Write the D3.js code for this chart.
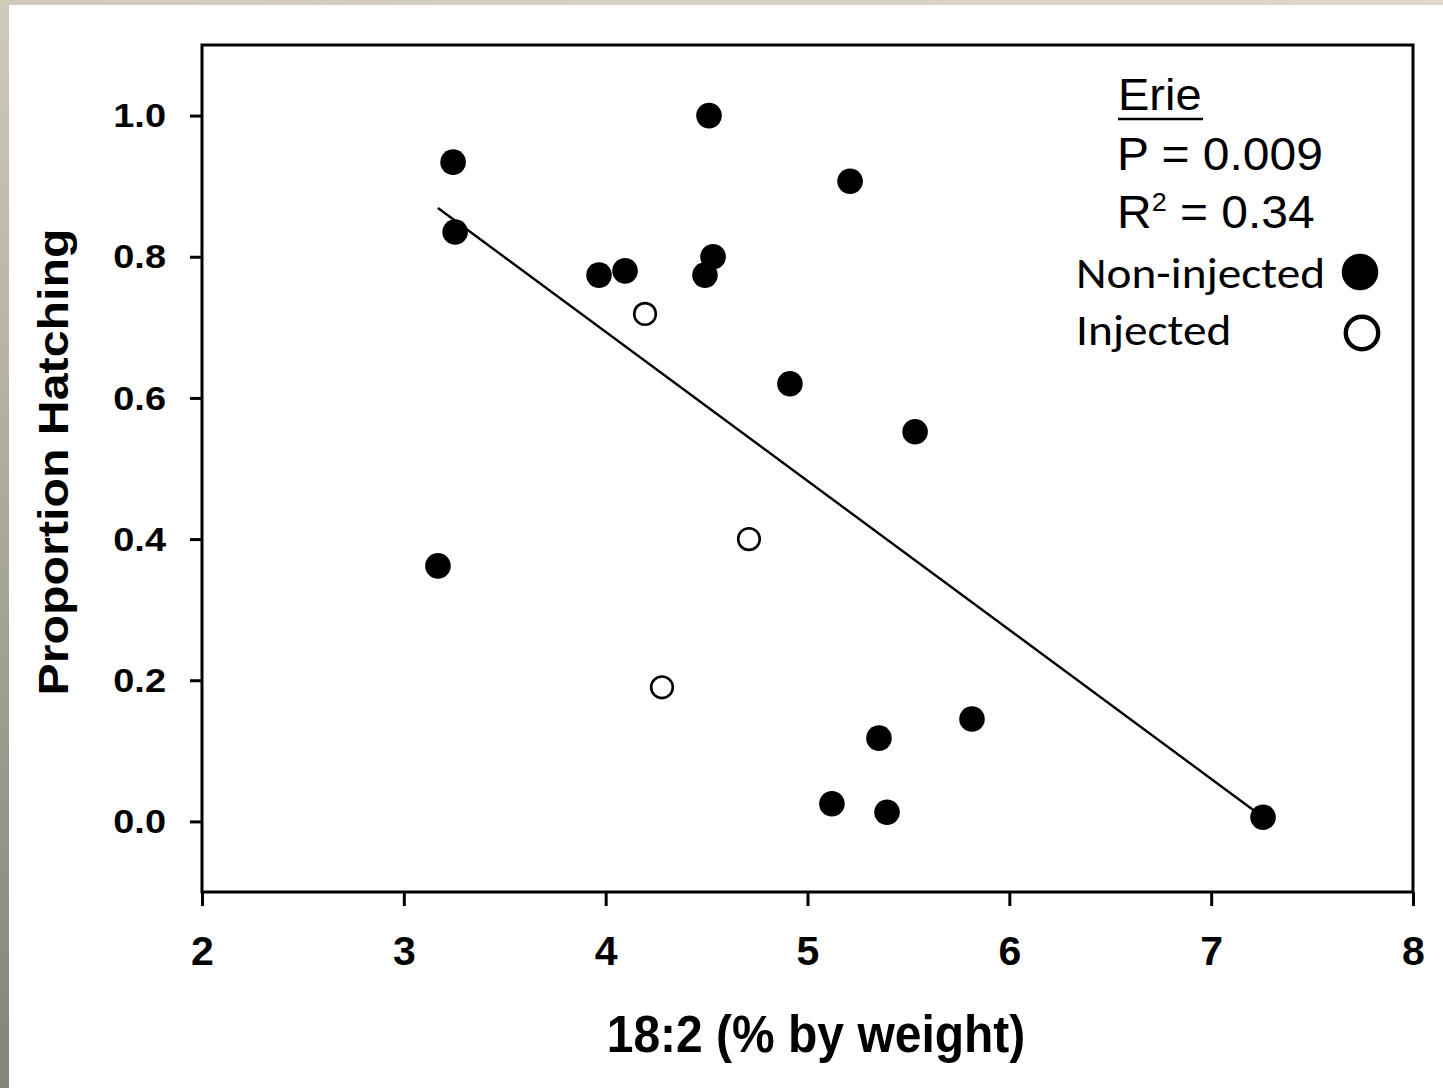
<!DOCTYPE html>
<html>
<head>
<meta charset="utf-8">
<script src="https://cdn.jsdelivr.net/npm/d3@7/dist/d3.min.js"></script>
<style>
  html, body { margin: 0; padding: 0; background: #fff; }
  svg { display: block; }
</style>
</head>
<body>
<svg id="chart" width="1443" height="1088"></svg>
<script>
// ---- Data ----
const nonInjectedX = [3.244, 3.254, 3.169, 3.967, 4.096, 4.512, 4.532, 4.492, 5.211, 4.913, 5.533, 5.815, 5.354, 5.121, 5.394, 7.257];
const nonInjectedY = [0.934, 0.835, 0.362, 0.774, 0.780, 1.000, 0.800, 0.774, 0.907, 0.620, 0.552, 0.145, 0.118, 0.025, 0.013, 0.006];
const injectedX = [4.195, 4.710, 4.279];
const injectedY = [0.719, 0.400, 0.190];
const fitX = [3.169, 7.257];
const fitY = [0.869, 0.006];
const xTicks = [2, 3, 4, 5, 6, 7, 8];
const yTicks = [0.0, 0.2, 0.4, 0.6, 0.8, 1.0];
const xTitle = "18:2 (% by weight)";
const yTitle = "Proportion Hatching";
const siteName = "Erie";
const pText = "P = 0.009";
const r2Value = " = 0.34";
const legendLabels = ["Non-injected", "Injected"];

// ---- Layout ----
const W = 1443, H = 1088;
const plot = { left: 202, right: 1413, top: 45, bottom: 892 };
const svg = d3.select("#chart");
const arial = "'Liberation Sans', Arial, Helvetica, sans-serif";
const calibri = "Carlito, Calibri, Lato, sans-serif";

// Background: beige slide border on top and left
const defs = svg.append("defs");
const lg = defs.append("linearGradient").attr("id", "leftGrad")
  .attr("x1", 0).attr("y1", 0).attr("x2", 0).attr("y2", 1);
lg.append("stop").attr("offset", "0%").attr("stop-color", "#cfcbba");
lg.append("stop").attr("offset", "100%").attr("stop-color", "#85837a");
const tg = defs.append("linearGradient").attr("id", "topGrad")
  .attr("x1", 0).attr("y1", 0).attr("x2", 1).attr("y2", 0);
tg.append("stop").attr("offset", "0%").attr("stop-color", "#cfcbba");
tg.append("stop").attr("offset", "100%").attr("stop-color", "#dcd9cb");

svg.append("rect").attr("x", 0).attr("y", 0).attr("width", W).attr("height", H).attr("fill", "#ffffff");
svg.append("rect").attr("x", 0).attr("y", 0).attr("width", W).attr("height", 5).attr("fill", "url(#topGrad)");
svg.append("rect").attr("x", 0).attr("y", 0).attr("width", 9).attr("height", H).attr("fill", "url(#leftGrad)");

// Scales
const x = d3.scaleLinear().domain([2, 8]).range([plot.left, plot.right]);
const y = d3.scaleLinear().domain([-0.1, 1.1]).range([plot.bottom, plot.top]);

// Axes
const xAxis = svg.append("g")
  .attr("transform", `translate(0,${plot.bottom})`)
  .call(d3.axisBottom(x).tickValues(xTicks).tickFormat(d3.format("d")).tickSizeInner(14).tickSizeOuter(0));
xAxis.select(".domain").remove();
xAxis.selectAll(".tick line").attr("stroke", "#000").attr("stroke-width", 3);
xAxis.selectAll(".tick text")
  .attr("y", 73).attr("dy", 0)
  .attr("fill", "#000")
  .style("font-family", arial).style("font-weight", "bold").style("font-size", "41px");

const ySx = 1.15;
const yAxis = svg.append("g")
  .attr("transform", `translate(${plot.left},0)`)
  .call(d3.axisLeft(y).tickValues(yTicks).tickFormat(d3.format(".1f")).tickSizeInner(12).tickSizeOuter(0));
yAxis.select(".domain").remove();
yAxis.selectAll(".tick line").attr("stroke", "#000").attr("stroke-width", 3);
yAxis.selectAll(".tick text")
  .attr("x", -36 / ySx).attr("dy", "0.34em")
  .attr("transform", `scale(${ySx},1)`)
  .attr("fill", "#000")
  .style("font-family", arial).style("font-weight", "bold").style("font-size", "33px");

// Frame
svg.append("rect")
  .attr("x", plot.left).attr("y", plot.top)
  .attr("width", plot.right - plot.left).attr("height", plot.bottom - plot.top)
  .attr("fill", "none").attr("stroke", "#000").attr("stroke-width", 3);

// Regression line
svg.append("path")
  .datum(fitX.map((d, i) => [d, fitY[i]]))
  .attr("d", d3.line().x(d => x(d[0])).y(d => y(d[1])))
  .attr("fill", "none").attr("stroke", "#000").attr("stroke-width", 2.4);

// Points
svg.append("g").selectAll("circle")
  .data(nonInjectedX.map((d, i) => [d, nonInjectedY[i]]))
  .join("circle")
  .attr("cx", d => x(d[0])).attr("cy", d => y(d[1]))
  .attr("r", 12.8).attr("fill", "#000");

svg.append("g").selectAll("circle")
  .data(injectedX.map((d, i) => [d, injectedY[i]]))
  .join("circle")
  .attr("cx", d => x(d[0])).attr("cy", d => y(d[1]))
  .attr("r", 10.8).attr("fill", "#fff").attr("stroke", "#000").attr("stroke-width", 2.6);

// Axis titles
svg.append("g")
  .attr("transform", `translate(816,1052) scale(1,1.08)`)
  .append("text")
  .attr("text-anchor", "middle")
  .attr("fill", "#000")
  .style("font-family", arial).style("font-weight", "bold").style("font-size", "48px")
  .text(xTitle);

svg.append("g")
  .attr("transform", `translate(68,462) rotate(-90) scale(1.15,1)`)
  .append("text")
  .attr("text-anchor", "middle")
  .attr("fill", "#000")
  .style("font-family", arial).style("font-weight", "bold").style("font-size", "42px")
  .text(yTitle);

// Annotation
const ann = svg.append("g");
ann.append("g").attr("transform", "translate(1118,110) scale(1,0.95)")
  .append("text").attr("fill", "#000")
  .style("font-family", arial).style("font-size", "47px")
  .text(siteName);
ann.append("line").attr("x1", 1118).attr("x2", 1203).attr("y1", 119).attr("y2", 119)
  .attr("stroke", "#000").attr("stroke-width", 2.5);
ann.append("g").attr("transform", "translate(1117,170) scale(1,0.96)")
  .append("text").attr("fill", "#000")
  .style("font-family", arial).style("font-size", "48px")
  .text(pText);
const rT = ann.append("g").attr("transform", "translate(1117,228) scale(1,0.96)")
  .append("text").attr("fill", "#000")
  .style("font-family", arial).style("font-size", "48px");
rT.append("tspan").text("R");
rT.append("tspan").attr("dy", -18).style("font-size", "27px").text("2");
rT.append("tspan").attr("dy", 18).text(r2Value);

// Legend
const legY = [288, 345];
const legG = svg.append("g");
legendLabels.forEach((lab, i) => {
  legG.append("g").attr("transform", `translate(1076,${legY[i]}) scale(1.1,1)`)
    .append("text")
    .attr("fill", "#000")
    .style("font-family", calibri).style("font-size", "43px")
    .text(lab);
});
legG.append("circle").attr("cx", 1360).attr("cy", 272).attr("r", 18.3).attr("fill", "#000");
legG.append("circle").attr("cx", 1362).attr("cy", 333).attr("r", 16.2)
  .attr("fill", "#fff").attr("stroke", "#000").attr("stroke-width", 4.4);
</script>
</body>
</html>
